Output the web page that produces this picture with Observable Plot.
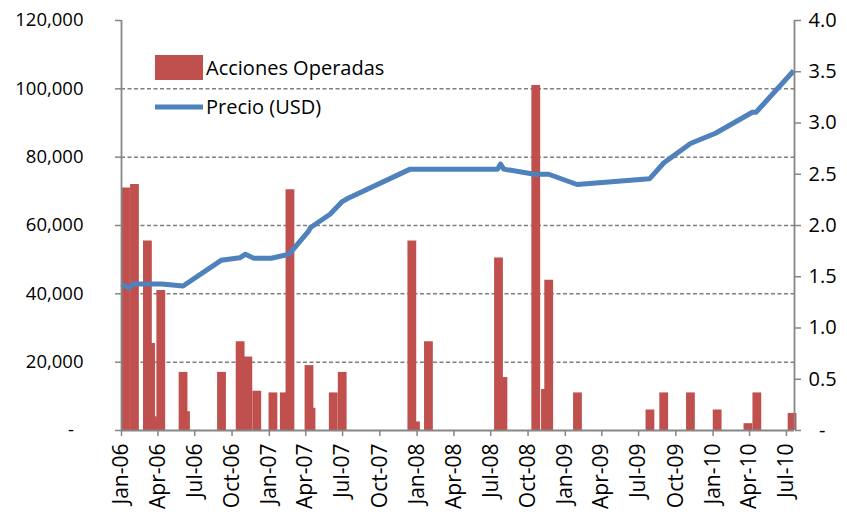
<!DOCTYPE html>
<html>
<head>
<meta charset="utf-8">
<script src="https://cdn.jsdelivr.net/npm/d3@7"></script>
<script src="https://cdn.jsdelivr.net/npm/@observablehq/plot@0.6"></script>
<style>
  html, body { margin: 0; padding: 0; background: #fff; }
  #chart { width: 847px; height: 517px; }
</style>
</head>
<body>
<div id="chart"></div>
<script>
// ---- Data ----
const tradeDates = ["2006-01-11","2006-02-02","2006-03-06","2006-03-14","2006-03-25","2006-04-08","2006-06-02","2006-06-08","2006-09-05","2006-10-21","2006-11-09","2006-12-01","2007-01-10","2007-02-07","2007-02-21","2007-04-09","2007-04-14","2007-06-08","2007-06-30","2007-12-19","2007-12-28","2008-01-29","2008-07-20","2008-07-31","2008-10-20","2008-11-13","2008-11-21","2009-01-31","2009-07-29","2009-09-01","2009-11-06","2010-01-11","2010-03-28","2010-04-19","2010-07-15"];
const tradeVolumes = [71000,72000,55500,25500,4000,41000,17000,5500,17000,26000,21500,11500,11000,11000,70500,19000,6500,11000,17000,55500,2500,26000,50500,15500,101000,12000,44000,11000,6000,11000,11000,6000,2000,11000,5000];

const priceDates = ["2006-01-01","2006-01-19","2006-01-30","2006-04-10","2006-06-02","2006-09-04","2006-10-20","2006-11-03","2006-11-24","2007-01-06","2007-02-19","2007-04-07","2007-04-13","2007-05-31","2007-06-29","2007-07-12","2007-12-15","2008-07-18","2008-07-25","2008-08-02","2008-10-17","2008-11-21","2009-01-30","2009-07-28","2009-09-01","2009-11-06","2010-01-07","2010-04-08","2010-04-17","2010-07-19"];
const priceValues = [1.43,1.39,1.43,1.43,1.41,1.66,1.685,1.72,1.68,1.68,1.72,1.94,1.98,2.11,2.23,2.26,2.55,2.55,2.60,2.55,2.50,2.50,2.40,2.455,2.61,2.80,2.90,3.105,3.105,3.51];

const xTickDates = ["2006-01-01","2006-04-01","2006-07-01","2006-10-01","2007-01-01","2007-04-01","2007-07-01","2007-10-01","2008-01-01","2008-04-01","2008-07-01","2008-10-01","2009-01-01","2009-04-01","2009-07-01","2009-10-01","2010-01-01","2010-04-01","2010-07-01"];
const leftTicks = [0,20000,40000,60000,80000,100000,120000];
const rightTicks = [0,0.5,1.0,1.5,2.0,2.5,3.0,3.5,4.0];
const xDomain = ["2006-01-01","2010-07-21"];
const seriesNames = ["Acciones Operadas","Precio (USD)"];

// ---- Build tables ----
const parse = d3.utcParse("%Y-%m-%d");
const trades = tradeDates.map((d, i) => ({date: parse(d), volume: tradeVolumes[i]}));
const prices = priceDates.map((d, i) => ({date: parse(d), price: priceValues[i]}));
const RATIO = 120000 / 4.0; // right axis maps 0–4.0 onto 0–120,000

const BAR = "#C0504D", LINE = "#4F81BD", AXIS = "#868686", GRID = "#7f7f7f";
const FONT = "'Open Sans', sans-serif";

const chart = Plot.plot({
  width: 847,
  height: 517,
  marginLeft: 121,
  marginRight: 53,
  marginTop: 20,
  marginBottom: 87,
  style: {fontFamily: FONT, fontSize: "18.5px", color: "#000", background: "#fff", overflow: "visible"},
  x: {type: "utc", domain: xDomain.map(parse), label: null},
  y: {domain: [0, 120000], label: null},
  marks: [
    Plot.gridY(leftTicks.filter(d => d > 0 && d < 120000), {stroke: GRID, strokeOpacity: 1, strokeWidth: 1.5, strokeDasharray: "4,2.5"}),
    Plot.ruleX(trades, {x: "date", y1: 0, y2: "volume", stroke: BAR, strokeWidth: 8.8}),
    Plot.line(prices, {x: "date", y: d => d.price * RATIO, stroke: LINE, strokeWidth: 5, strokeLinejoin: "round", strokeLinecap: "butt"}),
    Plot.ruleX([parse(xDomain[0])], {stroke: AXIS, strokeWidth: 1.8}),
    Plot.ruleX([parse(xDomain[1])], {stroke: AXIS, strokeWidth: 1.8}),
    Plot.ruleY([0], {stroke: AXIS, strokeWidth: 1.8}),
    Plot.axisY(leftTicks, {
      anchor: "left", tickSize: 6, tickPadding: 32, stroke: AXIS, strokeWidth: 1.5, label: null,
      tickFormat: d => d === 0 ? "-\u00A0\u00A0" : d3.format(",")(d)
    }),
    Plot.axisY(rightTicks.map(v => v * RATIO), {
      anchor: "right", tickSize: 6, tickPadding: 8, stroke: AXIS, strokeWidth: 1.5, label: null, fontSize: 20,
      tickFormat: d => d === 0 ? "\u00A0\u00A0-" : (d / RATIO).toFixed(1)
    }),
    Plot.axisX(xTickDates.map(parse), {
      anchor: "bottom", tickSize: 6, tickPadding: 7, tickRotate: -90, stroke: AXIS, strokeWidth: 1.5, label: null, fontSize: 21,
      tickFormat: d3.utcFormat("%b-%y")
    })
  ]
});

// ---- Legend (inside plot, top-left) ----
const svg = d3.select(chart);
const lg = svg.append("g").attr("font-family", FONT).attr("font-size", 20).attr("fill", "#000").attr("text-anchor", "start");
lg.append("rect").attr("x", 155).attr("y", 55).attr("width", 48).attr("height", 25).attr("fill", BAR);
lg.append("text").attr("x", 206).attr("y", 67.5).attr("dy", "0.35em").text(seriesNames[0]);
lg.append("line").attr("x1", 155).attr("x2", 203).attr("y1", 107).attr("y2", 107).attr("stroke", LINE).attr("stroke-width", 5);
lg.append("text").attr("x", 206).attr("y", 107).attr("dy", "0.35em").text(seriesNames[1]);

document.getElementById("chart").appendChild(chart);
</script>
</body>
</html>
